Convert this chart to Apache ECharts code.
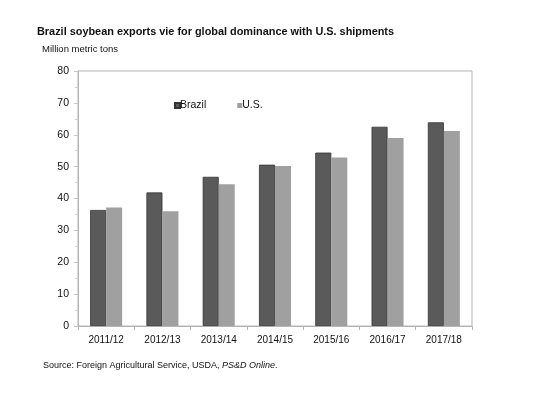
<!DOCTYPE html>
<html><head><meta charset="utf-8">
<script src="https://cdn.jsdelivr.net/npm/echarts@6/dist/echarts.min.js"></script>
<style>html,body{margin:0;padding:0;background:#fff}#c{width:551px;height:393px}</style>
</head><body><div id="c"></div>
<script>
const categories = ['2011/12','2012/13','2013/14','2014/15','2015/16','2016/17','2017/18'];
const brazil = [36.4, 41.9, 46.8, 50.6, 54.4, 62.5, 63.9];
const us = [37.2, 36.0, 44.5, 50.2, 52.9, 59.0, 61.2];
const yTicks = [0, 10, 20, 30, 40, 50, 60, 70, 80];

const chart = echarts.init(document.getElementById('c'), null, {renderer: 'canvas'});
const font = 'Liberation Sans, Arial, sans-serif';
chart.setOption({
  animation: false,
  backgroundColor: '#fff',
  textStyle: {fontFamily: font},
  title: [
    {text: 'Brazil soybean exports vie for global dominance with U.S. shipments', left: 32, top: 21,
     textStyle: {fontFamily: font, fontSize: 10.9, fontWeight: 'bold', color: '#111'}},
    {text: 'Million metric tons', left: 37, top: 39,
     textStyle: {fontFamily: font, fontSize: 9.5, fontWeight: 'normal', color: '#111'}},
    {text: 'Source: Foreign Agricultural Service, USDA, {i|PS&D Online}.', left: 38, top: 356,
     textStyle: {fontFamily: font, fontSize: 9, fontWeight: 'normal', color: '#111',
       rich: {i: {fontStyle: 'italic', fontFamily: font, fontSize: 9, color: '#111'}}}}
  ],
  legend: {
    data: ['Brazil', 'U.S.'], left: 174, top: 100, padding: 0, itemWidth: 5, itemHeight: 5, itemGap: 31,
    icon: 'rect', textStyle: {fontFamily: font, fontSize: 10.5, color: '#111', padding: [0,0,0,-5]}
  },
  grid: {left: 78, right: 79, top: 71, bottom: 67, show: true, borderColor: '#b5b5b5', borderWidth: 1, containLabel: false},
  xAxis: {
    type: 'category', data: categories,
    axisLine: {lineStyle: {color: '#b5b5b5'}},
    axisTick: {show: true, length: 4, lineStyle: {color: '#b5b5b5'}},
    axisLabel: {color: '#111', fontSize: 10, margin: 9, fontFamily: font}
  },
  yAxis: {
    type: 'value', min: yTicks[0], max: yTicks[yTicks.length-1], interval: 10,
    splitLine: {show: false},
    axisLine: {show: true, lineStyle: {color: '#b5b5b5'}},
    axisTick: {show: true, length: 4, lineStyle: {color: '#c8c8c8'}},
    minorTick: {show: true, splitNumber: 2, length: 3, lineStyle: {color: '#d0d0d0'}},
    axisLabel: {color: '#111', fontSize: 10.5, margin: 9, fontFamily: font}
  },
  series: [
    {name: 'Brazil', type: 'bar', data: brazil, barWidth: 16, barGap: '0%',
     itemStyle: {color: '#5a5a5a', borderColor: '#333', borderWidth: 0.8}},
    {name: 'U.S.', type: 'bar', data: us, barWidth: 16,
     itemStyle: {color: '#a0a0a0'}}
  ]
});
</script></body></html>
